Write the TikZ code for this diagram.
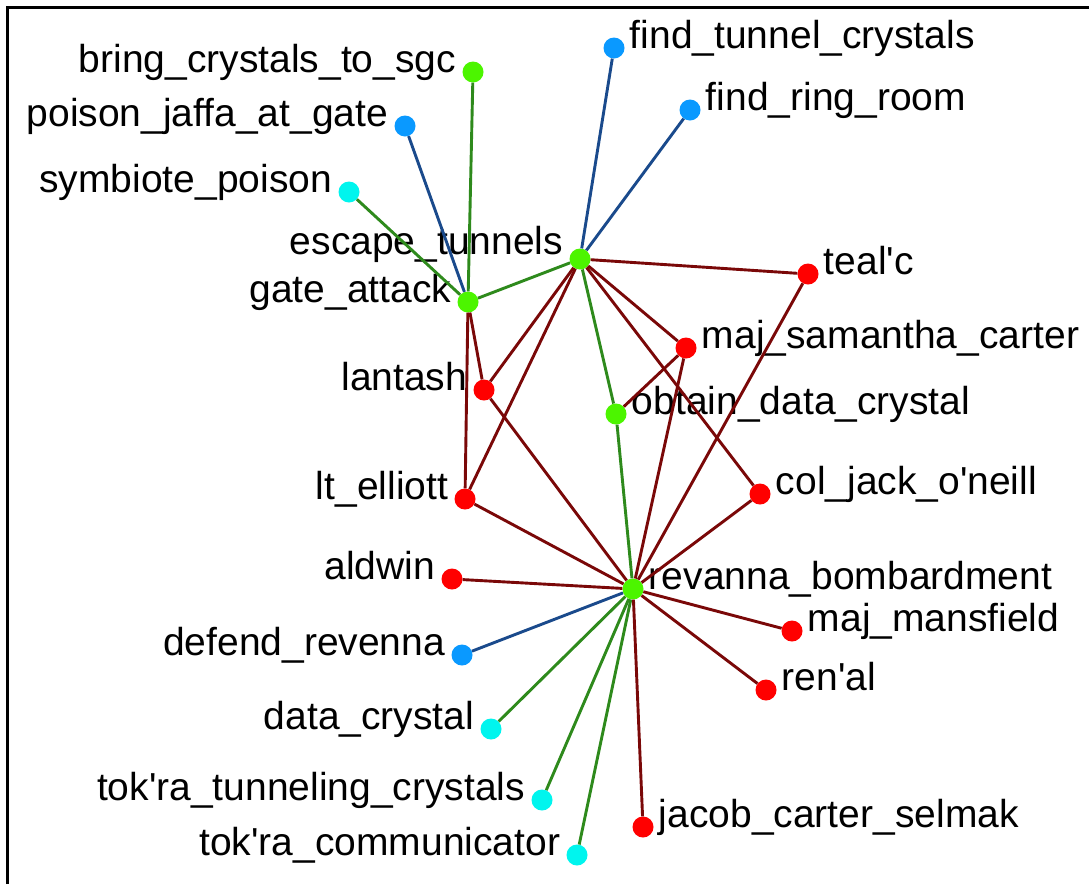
\documentclass[tikz,border=0pt]{standalone}
\usepackage{fontspec}
\newfontfamily\lblfont{Liberation Sans}
\usetikzlibrary{positioning}
\definecolor{agentred}{HTML}{FF0000}
\definecolor{taskgreen}{HTML}{4CF500}
\definecolor{knowblue}{HTML}{0A99FF}
\definecolor{rescyan}{HTML}{00F5EE}
\definecolor{linkred}{HTML}{7A0808}
\definecolor{linkgreen}{HTML}{2E8A1C}
\definecolor{linkblue}{HTML}{1A4A8C}

\begin{document}
\begin{tikzpicture}[x=1pt, y=-1pt,
        dot/.style={circle, inner sep=0pt, minimum size=21pt, fill=#1},
        lbl/.style={font=\lblfont\fontsize{39}{41}\selectfont, inner sep=0pt},
        link/.style={line width=2.9pt, #1}]
        \useasboundingbox (0,0) rectangle (1089,884);
        \fill[white] (0,0) rectangle (1089,884);
        \draw[line width=3pt] (7,884) -- (7,7) -- (1089,7);
        % tasks
        \node[dot=taskgreen] (et) at (580,259) {};
        \node[dot=taskgreen] (ga) at (468,302) {};
        \node[dot=taskgreen] (bcs) at (473,72) {};
        \node[dot=taskgreen] (odc) at (616,414) {};
        \node[dot=taskgreen] (rb) at (633,589) {};
        % knowledge
        \node[dot=knowblue] (pjg) at (405,126) {};
        \node[dot=knowblue] (ftc) at (614,48) {};
        \node[dot=knowblue] (frr) at (690,110) {};
        \node[dot=knowblue] (dr) at (462,655) {};
        % resources
        \node[dot=rescyan] (sp) at (349,192) {};
        \node[dot=rescyan] (dc) at (491,729) {};
        \node[dot=rescyan] (ttc) at (542,800) {};
        \node[dot=rescyan] (tcom) at (577,855) {};
        % agents
        \node[dot=agentred] (tc) at (808,274) {};
        \node[dot=agentred] (msc) at (686,348) {};
        \node[dot=agentred] (lan) at (484,390) {};
        \node[dot=agentred] (le) at (465,499) {};
        \node[dot=agentred] (cjo) at (760,494) {};
        \node[dot=agentred] (ald) at (452,579) {};
        \node[dot=agentred] (mm) at (792,631) {};
        \node[dot=agentred] (ren) at (766,690) {};
        \node[dot=agentred] (jcs) at (643,827) {};
        % labels
        \node[lbl, base left=6pt of bcs] (bcs-t) {bring\_crystals\_to\_sgc};
        \node[lbl, base left=6pt of pjg] (pjg-t) {poison\_jaffa\_at\_gate};
        \node[lbl, base left=6pt of sp] (sp-t) {symbiote\_poison};
        \node[lbl, base right=5pt of ftc] (ftc-t) {find\_tunnel\_crystals};
        \node[lbl, base right=5pt of frr] (frr-t) {find\_ring\_room};
        \node[lbl, base left=6pt of et, yshift=5pt] (et-t) {escape\_tunnels};
        \node[lbl, base left=6pt of ga] (ga-t) {gate\_attack};
        \node[lbl, base right=5pt of tc] (tc-t) {teal'c};
        \node[lbl, base right=5pt of msc] (msc-t) {maj\_samantha\_carter};
        \node[lbl, base left=6pt of lan] (lan-t) {lantash};
        \node[lbl, base right=5pt of odc] (odc-t) {obtain\_data\_crystal};
        \node[lbl, base left=6pt of le] (le-t) {lt\_elliott};
        \node[lbl, base right=5pt of cjo] (cjo-t) {col\_jack\_o'neill};
        \node[lbl, base right=5pt of rb] (rb-t) {revanna\_bombardment};
        \node[lbl, base left=6pt of ald] (ald-t) {aldwin};
        \node[lbl, base left=6pt of dr] (dr-t) {defend\_revenna};
        \node[lbl, base right=5pt of mm] (mm-t) {maj\_mansfield};
        \node[lbl, base right=5pt of ren] (ren-t) {ren'al};
        \node[lbl, base left=6pt of dc] (dc-t) {data\_crystal};
        \node[lbl, base left=6pt of ttc] (ttc-t) {tok'ra\_tunneling\_crystals};
        \node[lbl, base left=6pt of tcom] (tcom-t) {tok'ra\_communicator};
        \node[lbl, base right=5pt of jcs] (jcs-t) {jacob\_carter\_selmak};
        % links
        \foreach \a/\b in {ga/bcs, ga/sp, ga/et, et/odc, odc/rb, rb/dc, rb/ttc, rb/tcom}
          \draw[link=linkgreen] (\a) -- (\b);
        \foreach \a/\b in {ga/pjg, et/ftc, et/frr, rb/dr}
          \draw[link=linkblue] (\a) -- (\b);
        \foreach \a/\b in {et/tc, et/lan, et/le, et/msc, et/cjo, ga/lan, ga/le, tc/rb, msc/odc,
                           msc/rb, lan/rb, le/rb, cjo/rb, ald/rb, rb/mm, rb/ren, rb/jcs}
          \draw[link=linkred] (\a) -- (\b);
      \end{tikzpicture}
\end{document}
